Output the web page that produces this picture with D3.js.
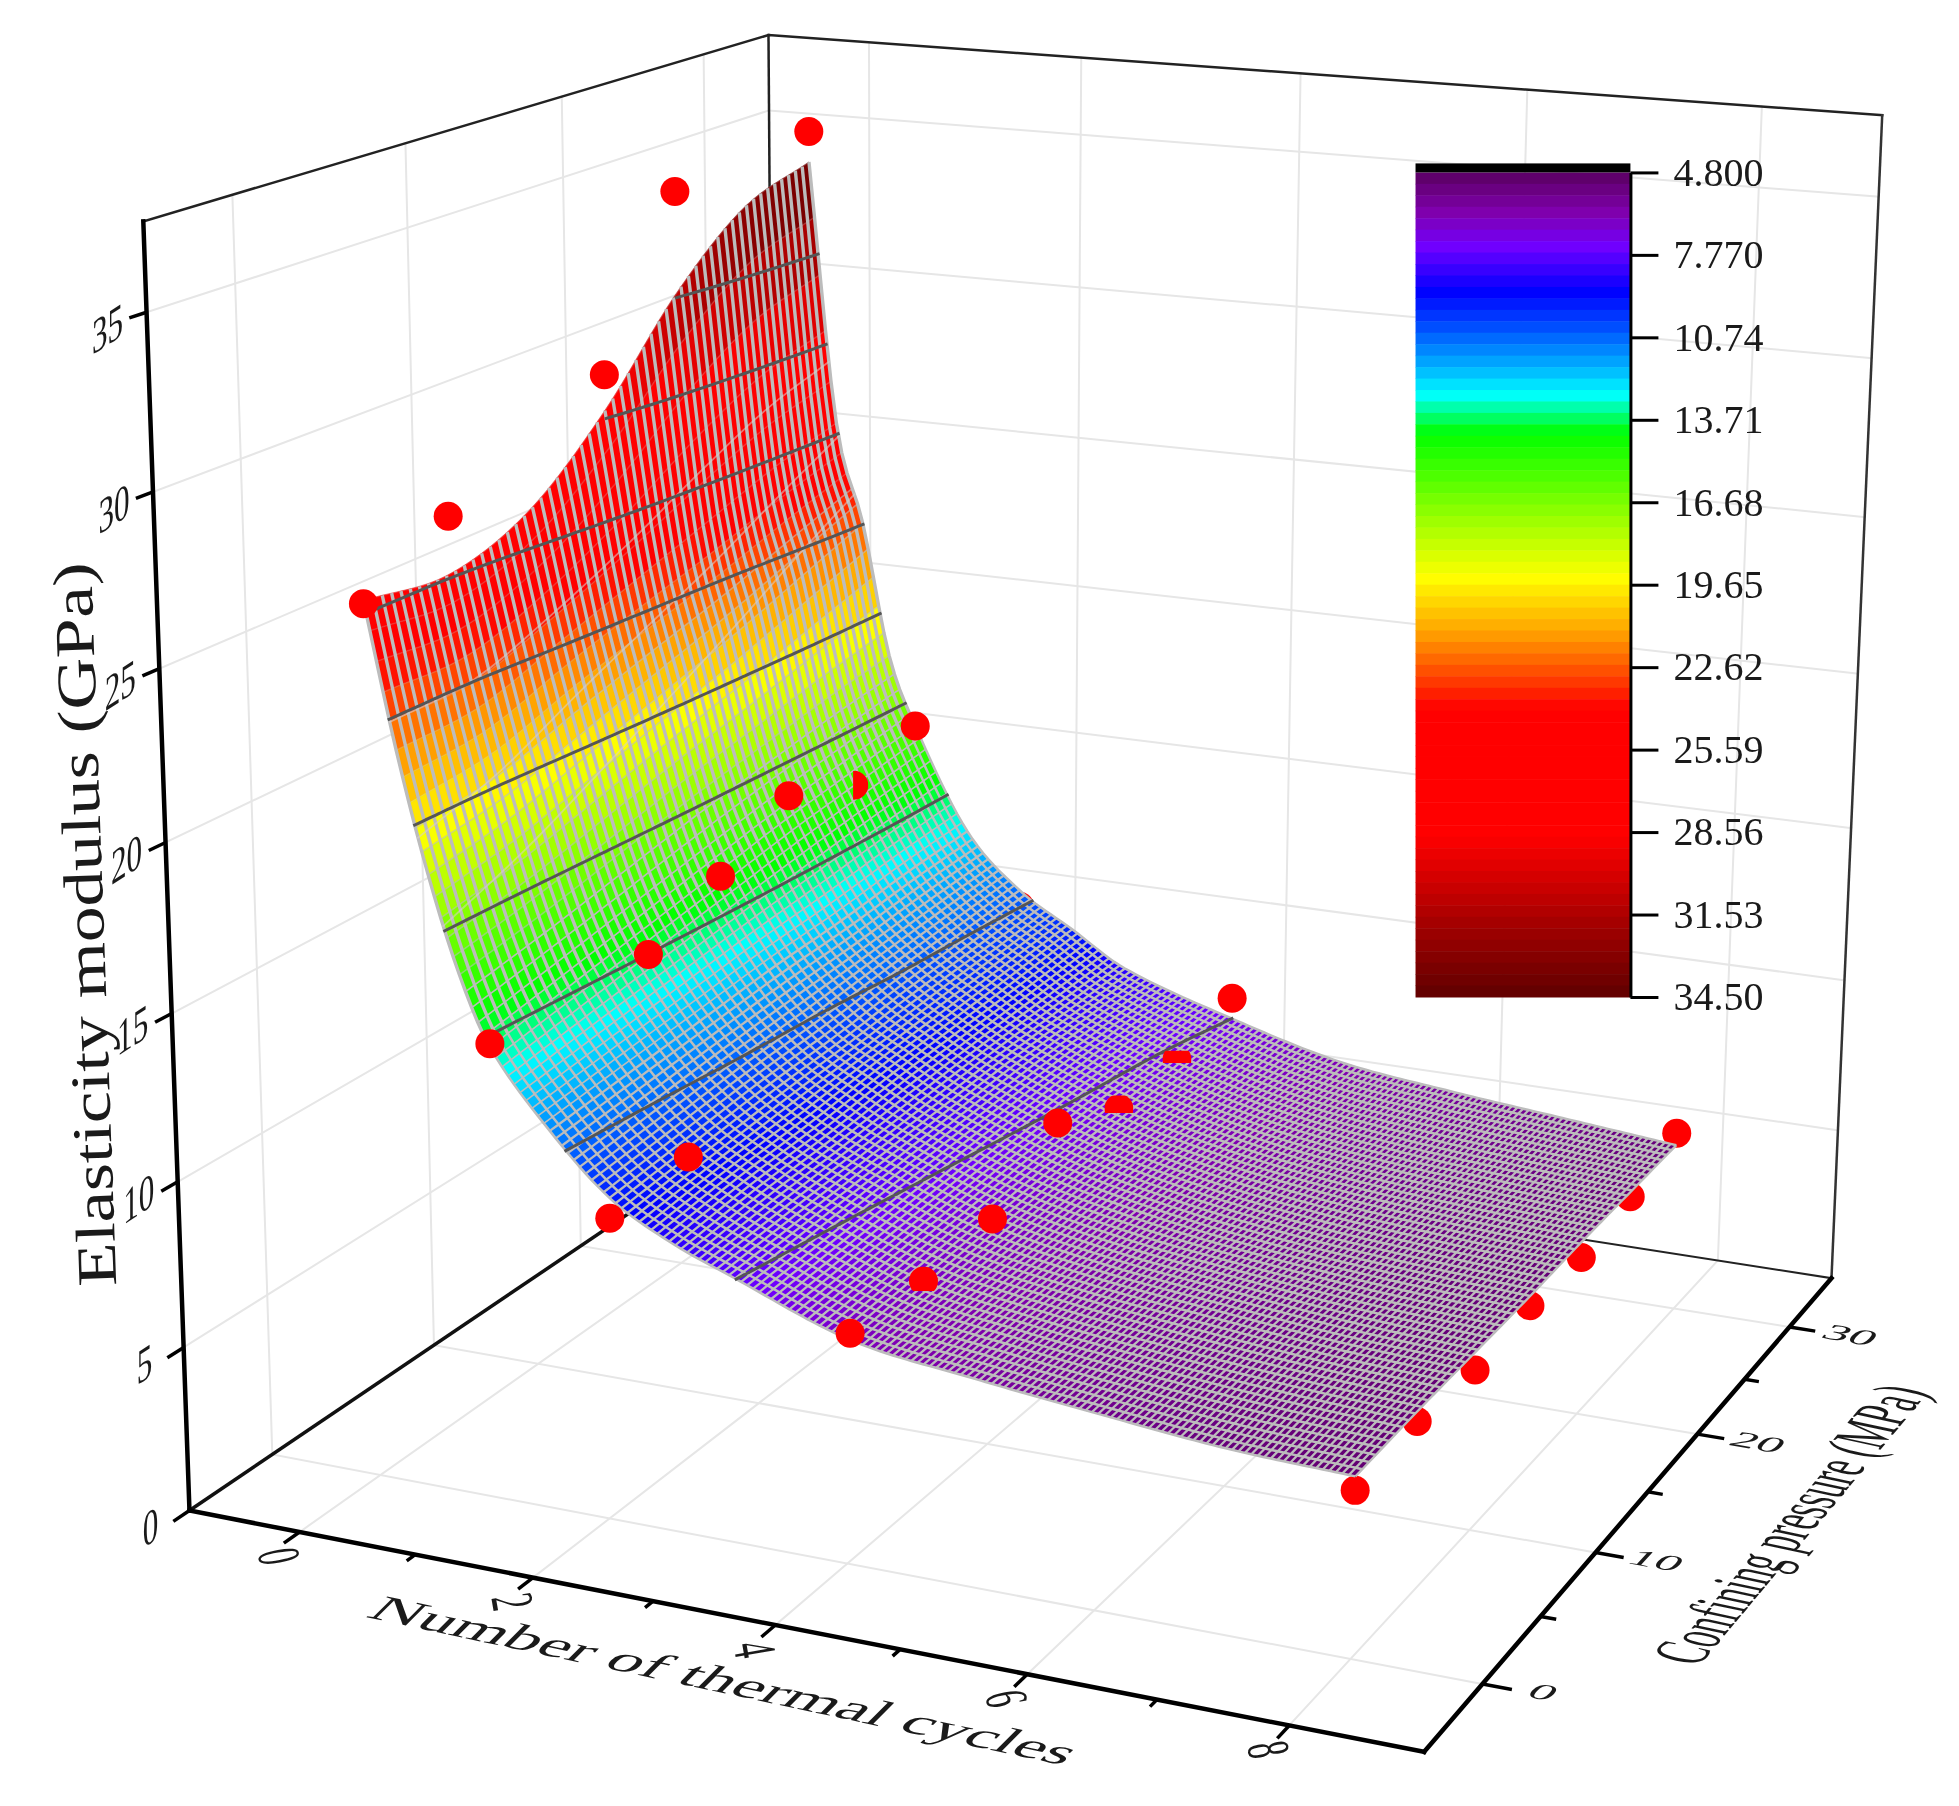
<!DOCTYPE html>
<html>
<head>
<meta charset="utf-8">
<script src="https://cdn.jsdelivr.net/npm/d3@7"></script>
<style>
  body { margin: 0; background: #fff; }
  svg { filter: blur(0.55px); }
  text { font-family: "Liberation Serif", serif; fill: #1a1a1a; }
</style>
</head>
<body>
<div id="vis"></div>
<script>
// values
const cycleTicks = [0, 2, 4, 6, 8];
const cycleMinor = [1, 3, 5, 7];
const pressureTicks = [0, 10, 20, 30];
const pressureMinor = [5, 15, 25];
const modulusTicks = [0, 5, 10, 15, 20, 25, 30, 35];

const legendTicks = [4.8, 7.77, 10.74, 13.71, 16.68, 19.65, 22.62, 25.59, 28.56, 31.53, 34.5];
const legendLabels = ["4.800", "7.770", "10.74", "13.71", "16.68", "19.65", "22.62", "25.59", "28.56", "31.53", "34.50"];

const colorStops = [4.8, 6.3, 7.5, 9.1, 10.4, 11.8, 12.8, 14.2, 15.8, 17.4, 19.4, 21.4, 24.1, 28.7, 32, 34.5];
const colorValues = ["#5a0060", "#8000b0", "#7000ff", "#0000ff", "#0050ff", "#00b0ff", "#00ffff", "#00ff00", "#50ff00",
  "#a0ff00", "#ffff00", "#ffa000", "#ff0000", "#ff0000", "#a00000", "#600000"];

// measured points, one list per thermal cycle count
const pointPressures = [0, 5, 10, 15, 20, 25, 30];
const pointCycles = [0, 1, 2, 4, 8];
const pointsN0 = [25.85, 27.4, 24.5, 29.9, 34.85, 30, 35.55];
const pointsN1 = [13.55, 13.4, 13.45, 14.6, 15.95, 15.1, 15.95];
const pointsN2 = [8.95, 9.2, 9.3, 9.5, 9.7, 10, 10.2];
const pointsN4 = [6.75, 6.6, 6.85, 8.3, 7.25, 7.4, 8.05];
const pointsN8 = [4.75, 4.9, 4.65, 4.9, 4.75, 5.1, 5.65];
const pointRows = [pointsN0, pointsN1, pointsN2, pointsN4, pointsN8];
// points the surface hides, "cycles-pressure"
const behindSurface = ["0-10", "0-25", "1-5", "2-10", "2-15", "2-20", "2-25", "2-30",
  "8-0", "8-5", "8-10", "8-15", "8-20", "8-25", "8-30"];

// fitted surface: a row per pressure, a column per cycle count
const surfaceCycles = [0, 0.25, 0.5, 0.75, 1, 1.5, 2, 2.5, 3, 4, 5, 6, 7, 8];
const surfaceP0 = [25.95, 21.75, 18.25, 15.45, 13.45, 11.25, 9.55, 8.55, 7.85, 6.55, 6.05, 5.65, 5.3, 5.15];
const surfaceP5 = [25.7, 21.9, 18.7, 15.9, 13.9, 11.5, 9.8, 8.8, 8.0, 6.7, 6.1, 5.7, 5.4, 5.2];
const surfaceP10 = [26.65, 22.75, 19.45, 16.45, 14.35, 11.75, 10.05, 8.95, 8.15, 6.85, 6.15, 5.75, 5.4, 5.2];
const surfaceP15 = [28.8, 23.6, 20.2, 17.0, 14.8, 12.0, 10.2, 9.2, 8.3, 7.0, 6.2, 5.7, 5.4, 5.2];
const surfaceP20 = [31.65, 24.45, 20.95, 17.45, 15.25, 12.15, 10.45, 9.35, 8.45, 7.1, 6.25, 5.75, 5.45, 5.25];
const surfaceP25 = [33.7, 25.3, 21.8, 17.9, 15.6, 12.4, 10.6, 9.5, 8.5, 7.2, 6.3, 5.8, 5.5, 5.25];
const surfaceP30 = [34.55, 25.95, 22.65, 18.25, 15.95, 12.55, 10.75, 9.65, 8.55, 7.35, 6.4, 5.95, 5.6, 5.25];
const surfaceRows = [surfaceP0, surfaceP5, surfaceP10, surfaceP15, surfaceP20, surfaceP25, surfaceP30];

const contourLevels = [7.77, 10.74, 13.71, 16.68, 19.65, 22.62, 25.59, 28.56, 31.53];
// how far each contour sits under its level at the far pressure edge
const contourDrop = [0.42, 0.3, 0, 0, 0, 0, 0, 0, 0];
// pale mesh lines: cycle count at pressure 0 and at pressure 30
const paleStart = [0.2, 0.42, 0.62];
const paleEnd = [0.18, 0.27, 0.42];

const width = 1959;
const height = 1806;
const k = width / 1568;

const svg = d3.select("#vis").append("svg").attr("width", width).attr("height", height);

const x = d3.scaleLinear().domain([-0.8, 9.1]).range([0, 1]);
const y = d3.scaleLinear().domain([-3, 32]).range([0, 1]);
const z = d3.scaleLinear().domain([0, 37.5]).range([0, 1]);
// ticks and grid of the box
const xGrid = d3.scaleLinear().domain([-0.97, 9.0]).range([0, 1]);
const yGrid = d3.scaleLinear().domain([-4.76, 34.9]).range([0, 1]);

// perspective of the box, fitted to the corners seen in the picture
const corners = [[0, 0, 0, 155, 1213], [1, 0, 0, 1138, 1400], [1, 1, 0, 1468, 1025], [0, 1, 0, 618, 888],
  [0, 0, 1, 113, 175], [0, 1, 1, 617, 30], [1, 1, 1, 1506, 92]];
const fitRows = [], fitRhs = [];
corners.forEach(([u, v, w, X, Y]) => {
  fitRows.push([u, v, w, 1, 0, 0, 0, 0, -X * u, -X * v, -X * w]); fitRhs.push(X);
  fitRows.push([0, 0, 0, 0, u, v, w, 1, -Y * u, -Y * v, -Y * w]); fitRhs.push(Y);
});
const M = d3.range(11).map(i => d3.range(12).map(j =>
  j < 11 ? d3.sum(fitRows, r => r[i] * r[j]) : d3.sum(fitRows, (r, q) => r[i] * fitRhs[q])));
for (let i = 0; i < 11; i++) {
  let m = i;
  for (let r = i; r < 11; r++) if (Math.abs(M[r][i]) > Math.abs(M[m][i])) m = r;
  [M[i], M[m]] = [M[m], M[i]];
  for (let r = 0; r < 11; r++) {
    if (r === i) continue;
    const f = M[r][i] / M[i][i];
    for (let c = i; c <= 11; c++) M[r][c] -= f * M[i][c];
  }
}
const a = M.map((r, i) => r[11] / r[i]);

const box = (u, v, w) => {
  const W = a[8] * u + a[9] * v + a[10] * w + 1;
  return [(a[0] * u + a[1] * v + a[2] * w + a[3]) / W * k, (a[4] * u + a[5] * v + a[6] * w + a[7]) / W * k];
};
const axisPoint = (N, p, E) => box(xGrid(N), yGrid(p), z(E));
// data sit slightly sheared against the box in the picture
const project = (N, p, E) => box(
  x(N + 0.14 - 0.01 * N + (p - 15) * (-0.0185 + 0.0008 * N)),
  y(p),
  z(E - 0.05 * (p - 15)));

const line = d3.line();
const drawLine = (pts, color, w) => svg.append("path").attr("d", line(pts)).attr("fill", "none")
  .attr("stroke", color).attr("stroke-width", w).attr("stroke-linecap", "square");

// walls and floor grid
const gridColor = "#e6e6e6";
const [n0, n1] = xGrid.domain(), [p0, p1] = yGrid.domain(), [e0, e1] = z.domain();
modulusTicks.slice(1).forEach(t => {
  drawLine([axisPoint(n0, p0, t), axisPoint(n0, p1, t), axisPoint(n1, p1, t)], gridColor, 2);
});
cycleTicks.forEach(t => {
  drawLine([axisPoint(t, p0, 0), axisPoint(t, p1, 0), axisPoint(t, p1, e1)], gridColor, 2);
});
pressureTicks.forEach(t => {
  drawLine([axisPoint(n0, t, e1), axisPoint(n0, t, 0), axisPoint(n1, t, 0)], gridColor, 2);
});

// box edges
drawLine([axisPoint(n0, p0, e1), axisPoint(n0, p1, e1), axisPoint(n1, p1, e1)], "#222", 2.5);
drawLine([axisPoint(n0, p1, e1), axisPoint(n0, p1, 0)], "#222", 2.5);
drawLine([axisPoint(n1, p1, e1), axisPoint(n1, p1, 0)], "#333", 2.5);
drawLine([axisPoint(n1, p1, 0), axisPoint(n0, p1, 0)], "#222", 2);
drawLine([axisPoint(n0, p0, 0), axisPoint(n0, p1, 0)], "#111", 3.5);

// surface
const cubic = (xs, ys, t) => {
  let i = d3.bisectRight(xs, t) - 1;
  i = Math.max(0, Math.min(xs.length - 2, i));
  const h = xs[i + 1] - xs[i], s = (t - xs[i]) / h;
  const slope = (b, c) => (ys[c] - ys[b]) / (xs[c] - xs[b]);
  const d0 = i > 0 ? slope(i - 1, i + 1) : slope(i, i + 1);
  const d1 = i < xs.length - 2 ? slope(i, i + 2) : slope(i, i + 1);
  return ys[i] * (2 * s * s * s - 3 * s * s + 1) + d0 * h * (s * s * s - 2 * s * s + s)
    + ys[i + 1] * (-2 * s * s * s + 3 * s * s) + d1 * h * (s * s * s - s * s);
};
const surfaceAt = (N, p) => cubic(pointPressures, surfaceRows.map(r => cubic(surfaceCycles, r, N)), p);

const color = d3.scaleLinear().domain(colorStops).range(colorValues).clamp(true);
const bandCount = 72;
const bandValue = b => 4.8 + (b + 0.5) * (34.5 - 4.8) / bandCount;

const dotRadius = 14.5;
const drawPoints = (keys) => {
  pointCycles.forEach((N, r) => pointPressures.forEach((p, c) => {
    if (!keys(`${N}-${p}`)) return;
    const [cx, cy] = project(N, p, pointRows[r][c]);
    svg.append("circle").attr("cx", cx).attr("cy", cy).attr("r", dotRadius).attr("fill", "#ff0000");
  }));
};
drawPoints(key => behindSurface.includes(key));

const meshN = d3.range(161).map(i => i * 0.05);
const meshP = d3.range(57).map(i => i * 30 / 56);
const meshE = meshP.map(p => meshN.map(N => surfaceAt(N, p)));
const meshXY = meshP.map((p, j) => meshN.map((N, i) => project(N, p, meshE[j][i])));

const surface = svg.append("g");
meshN.slice(0, -1).forEach((N, i) => {
  meshP.slice(0, -1).forEach((p, j) => {
    const fill = color((meshE[j][i] + meshE[j + 1][i] + meshE[j][i + 1] + meshE[j + 1][i + 1]) / 4);
    surface.append("path")
      .attr("d", line([meshXY[j][i], meshXY[j + 1][i], meshXY[j + 1][i + 1], meshXY[j][i + 1]]) + "Z")
      .attr("fill", fill).attr("stroke", fill).attr("stroke-width", 0.6);
  });
});
// cross lines barely show where the mesh is stretched
meshN.forEach((N, i) => {
  surface.append("path").attr("d", line(meshP.map((p, j) => meshXY[j][i])))
    .attr("fill", "none").attr("stroke", "#bcbcbc").attr("stroke-width", N < 1.5 ? 1.6 : 2.3)
    .attr("stroke-opacity", N < 0.4 ? 0.2 : N < 0.8 ? 0.55 : 1);
});
const wideEnd = meshN.indexOf(1);
meshP.forEach((p, j) => {
  surface.append("path").attr("d", line(meshXY[j].slice(0, wideEnd + 1)))
    .attr("fill", "none").attr("stroke", "#bcbcbc").attr("stroke-width", 3.4);
  surface.append("path").attr("d", line(meshXY[j].slice(wideEnd)))
    .attr("fill", "none").attr("stroke", "#bcbcbc").attr("stroke-width", 2.5);
});

// pale lines
paleStart.forEach((s, i) => {
  const pts = d3.range(0, 30.01, 1).map(p => {
    const N = s + (paleEnd[i] - s) * p / 30;
    return project(N, p, surfaceAt(N, p));
  });
  drawLine(pts, "#d8d0cc", 1.8).attr("stroke-opacity", 0.55);
});

// contour lines at the colour levels
contourLevels.forEach((level, c) => {
  const pts = [];
  d3.range(0, 30.01, 0.5).forEach(p => {
    const target = level - contourDrop[c] * p / 30;
    if (surfaceAt(0, p) < target) return;
    let lo = 0, hi = 8;
    for (let t = 0; t < 30; t++) {
      const mid = (lo + hi) / 2;
      if (surfaceAt(mid, p) > target) lo = mid; else hi = mid;
    }
    pts.push(project(lo, p, target));
  });
  drawLine(pts, "#555", 3).attr("stroke-dasharray", "11 2");
});

drawPoints(key => !behindSurface.includes(key) && !["1-25", "4-5", "4-20", "4-25"].includes(key));

// points that cut through the surface, only the part in front shows
const cutPoints = [[1, 25, -0.05, -1, 1, 1], [4, 5, -1, -1, 1, 0.7], [4, 20, -1, -0.9, 1, 0.3], [4, 25, -1, -0.6, 1, 0.25]];
cutPoints.forEach(([N, p, x0, y0, x1, y1], i) => {
  const value = pointRows[pointCycles.indexOf(N)][pointPressures.indexOf(p)];
  const [cx, cy] = project(N, p, value);
  svg.append("clipPath").attr("id", "cut" + i).append("rect")
    .attr("x", cx + x0 * dotRadius).attr("y", cy + y0 * dotRadius)
    .attr("width", (x1 - x0) * dotRadius).attr("height", (y1 - y0) * dotRadius);
  svg.append("circle").attr("cx", cx).attr("cy", cy).attr("r", dotRadius)
    .attr("fill", "#ff0000").attr("clip-path", `url(#cut${i})`);
});

// axes
drawLine([axisPoint(n0, p0, 0), axisPoint(n0, p0, e1)], "#000", 4.5);
drawLine([axisPoint(n0, p0, 0), axisPoint(n1, p0, 0)], "#000", 4.5);
drawLine([axisPoint(n1, p0, 0), axisPoint(n1, p1, 0)], "#000", 4.5);

const tick = (a0, a1, w) => drawLine([a0, a1], "#000", w).attr("stroke-linecap", "butt");
cycleTicks.forEach(t => tick(axisPoint(t, p0, 0), axisPoint(t, p0 - 0.9, 0), 3.5));
cycleMinor.forEach(t => tick(axisPoint(t, p0, 0), axisPoint(t, p0 - 0.5, 0), 3.5));
pressureTicks.forEach(t => tick(axisPoint(n1, t, 0), axisPoint(n1 + 0.22, t, 0), 3.5));
pressureMinor.forEach(t => tick(axisPoint(n1, t, 0), axisPoint(n1 + 0.12, t, 0), 3.5));
modulusTicks.forEach(t => tick(axisPoint(n0, p0, t), axisPoint(n0, p0 - 0.9, t), 3.5));

const label = (px, py, str, size, transform) => svg.append("text")
  .attr("transform", `translate(${px},${py}) ${transform}`)
  .attr("text-anchor", "middle").attr("dominant-baseline", "central")
  .style("font-size", size + "px").text(str);

cycleTicks.forEach(t => {
  const [px, py] = axisPoint(t, p0, 0);
  label(px - 20, py + 24, t, 38, "rotate(80) scale(0.8,1.6)");
});
pressureTicks.forEach(t => {
  const [px, py] = axisPoint(n1, t, 0);
  label(px + 61, py + 8, t, 38, "rotate(10) skewX(-33) scale(1.35,0.6)");
});
modulusTicks.forEach(t => {
  const [px, py] = axisPoint(n0, p0, t);
  label(px - 39, py + 16, t, 38, "skewY(-33) scale(0.82,1.3)");
});

const title = (cx, cy, str, size, target, transform) => {
  const t = label(cx * k, cy * k, str, size, "");
  const sx = target * k / t.node().getComputedTextLength();
  t.attr("transform", `translate(${cx * k},${cy * k}) ${transform[0]} scale(${sx},${transform[1]})`);
};
title(580, 1345, "Number of thermal cycles", 50, 572, ["rotate(12) skewX(-33)", 0.75]);
title(1432, 1220, "Confining pressure (MPa)", 50, 287, ["rotate(-50) skewX(28)", 1.3]);
title(68, 740, "Elasticity modulus (GPa)", 56, 580, ["rotate(-92)", 1]);

// legend
const legendY = d3.scaleLinear().domain([4.8, 34.5]).range([138 * k, 798 * k]);
const legendX0 = 1133 * k, legendX1 = 1305 * k;
const legend = svg.append("g");
d3.range(bandCount).forEach(b => {
  const v0 = 4.8 + b * (34.5 - 4.8) / bandCount, v1 = 4.8 + (b + 1) * (34.5 - 4.8) / bandCount;
  legend.append("rect").attr("x", legendX0).attr("y", legendY(v0))
    .attr("width", legendX1 - legendX0).attr("height", legendY(v1) - legendY(v0) + 0.5)
    .attr("fill", color(bandValue(b)));
});
legend.append("rect").attr("x", legendX0).attr("y", legendY(4.8) - 9)
  .attr("width", legendX1 - legendX0).attr("height", 9).attr("fill", "#000");

const legendAxis = svg.append("g").attr("transform", `translate(${legendX1},0)`)
  .call(d3.axisRight(legendY).tickValues(legendTicks).tickFormat((d, i) => legendLabels[i]).tickSize(28).tickSizeOuter(0).tickPadding(12));
legendAxis.selectAll("path,line").attr("stroke", "#000").attr("stroke-width", 3);
legendAxis.selectAll("text").attr("x", 133).attr("text-anchor", "end")
  .style("font-family", '"Liberation Serif", serif').style("font-size", "40px").attr("fill", "#222");
</script>
</body>
</html>
